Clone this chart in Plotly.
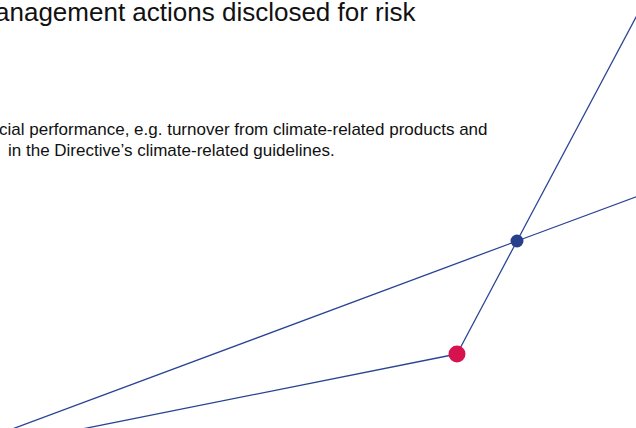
import plotly.graph_objects as go

# Diagram nodes (canvas units: x to the right, y downward)
node_names = ["A0", "A1", "B0", "Red", "Blue", "C1"]
node_x = [-20, 660, -13, 457, 517, 660]
node_y = [441, 188, 448, 354, 241, -28]

# Edges between nodes
edges = [("A0", "Blue"), ("Blue", "A1"), ("B0", "Red"), ("Red", "Blue"), ("Blue", "C1")]

# Highlighted nodes
dot_names = ["Blue", "Red"]
dot_colors = ["#283f8c", "#d7134f"]
dot_sizes = [13, 17]

# Texts
title_text = "anagement actions disclosed for risk"
sub_line1 = "cial performance, e.g. turnover from climate-related products and"
sub_line2 = "in the Directive\u2019s climate-related guidelines."

pos = {n: (x, y) for n, x, y in zip(node_names, node_x, node_y)}

fig = go.Figure()
for a, b in edges:
    fig.add_trace(go.Scatter(
        x=[pos[a][0], pos[b][0]], y=[pos[a][1], pos[b][1]],
        mode="lines", line=dict(color="#2a4494", width=1.3),
        hoverinfo="skip", showlegend=False, cliponaxis=True))

fig.add_trace(go.Scatter(
    x=[pos[n][0] for n in dot_names], y=[pos[n][1] for n in dot_names],
    mode="markers",
    marker=dict(color=dot_colors, size=dot_sizes, opacity=1, line=dict(width=0)),
    opacity=1, showlegend=False, hoverinfo="skip"))

font = "Arial, 'Liberation Sans', sans-serif"
fig.add_annotation(x=419, y=19.5, xref="x", yref="y", text=title_text,
                   showarrow=False, xanchor="right", yanchor="bottom",
                   font=dict(family=font, size=26, color="#111111"), yshift=-10)
fig.add_annotation(x=490, y=131, xref="x", yref="y", text=sub_line1,
                   showarrow=False, xanchor="right", yanchor="bottom",
                   font=dict(family=font, size=17, color="#111111"), yshift=-10)
fig.add_annotation(x=6, y=152, xref="x", yref="y", text=sub_line2,
                   showarrow=False, xanchor="left", yanchor="bottom",
                   font=dict(family=font, size=17, color="#111111"), yshift=-10)

fig.update_xaxes(range=[0, 636], visible=False, fixedrange=True)
fig.update_yaxes(range=[428, 0], visible=False, fixedrange=True)
fig.update_layout(width=636, height=428, margin=dict(l=0, r=0, t=0, b=0),
                  paper_bgcolor="white", plot_bgcolor="white")

fig.write_html("out.html", config={"displayModeBar": False},
               post_script="document.body.style.margin='0';document.body.style.overflow='hidden';")
